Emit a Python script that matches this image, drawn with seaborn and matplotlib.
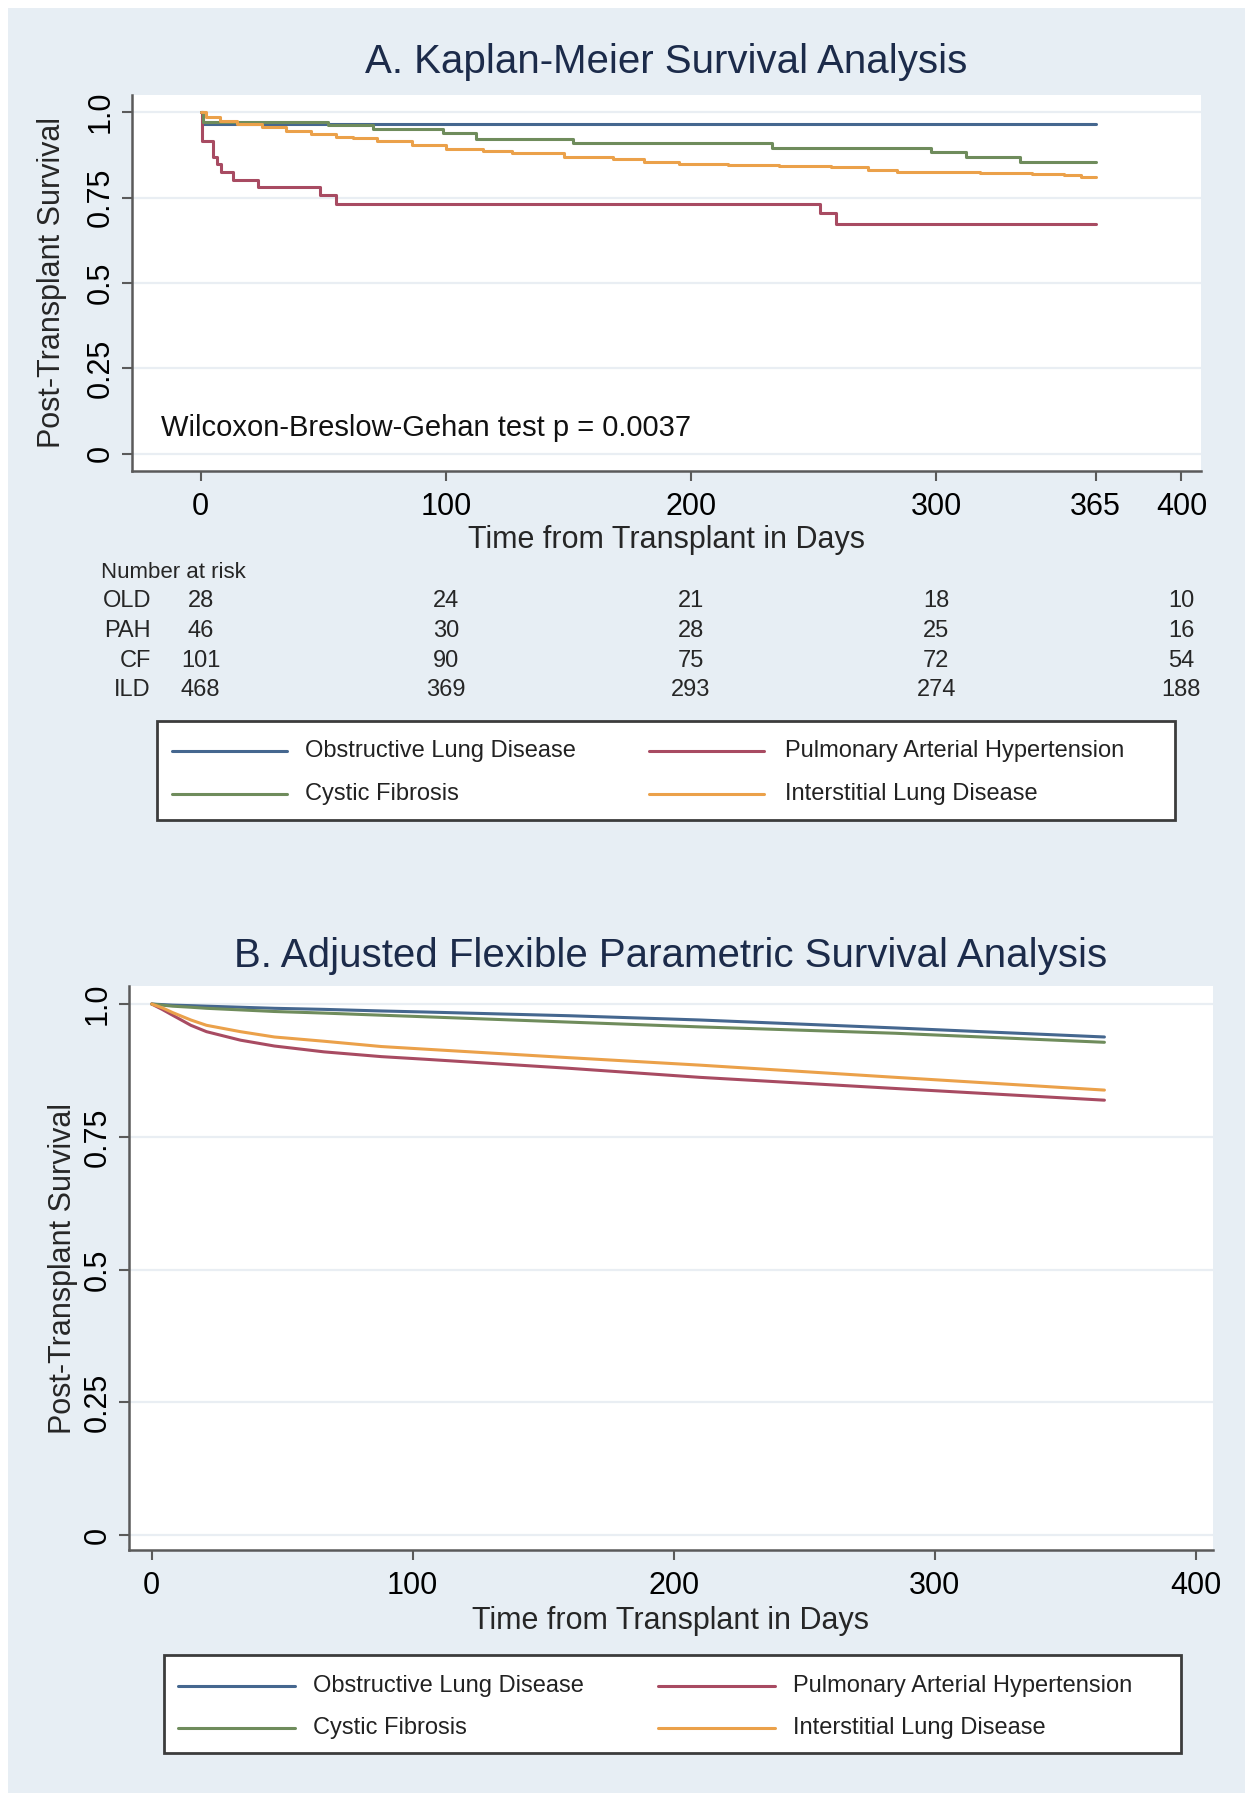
import matplotlib
matplotlib.use("Agg")
import matplotlib.pyplot as plt
import matplotlib.transforms as mtransforms
from matplotlib.patches import Rectangle
from matplotlib.lines import Line2D
import pandas as pd
import seaborn as sns

# grupe i boje
groups = ["Obstructive Lung Disease", "Pulmonary Arterial Hypertension",
          "Cystic Fibrosis", "Interstitial Lung Disease"]
colors = ["#45678F", "#A84B62", "#6F8C5C", "#EBA14A"]

# A. Kaplan-Meier (stepenice)
km_old_days = [0, 1, 365]
km_old_surv = [1.0, 0.964, 0.964]
km_pah_days = [0, 0.5, 5, 6.5, 8.4, 13, 23.4, 48.5, 55.3, 252.8, 259, 365]
km_pah_surv = [1.0, 0.916, 0.870, 0.848, 0.824, 0.802, 0.780, 0.757, 0.730, 0.704, 0.674, 0.674]
km_cf_days = [0, 1, 51.9, 70.2, 98.7, 112.3, 151.7, 233, 298, 312, 334, 365]
km_cf_surv = [1.0, 0.970, 0.962, 0.950, 0.940, 0.921, 0.909, 0.894, 0.882, 0.869, 0.855, 0.855]
km_ild_days = [0, 2, 8, 15, 25, 35, 45, 55, 62, 72, 86, 100, 115, 127, 148, 168,
               181, 195, 215, 236, 257, 272, 284, 300, 318, 339, 352, 359, 365]
km_ild_surv = [1.0, 0.985, 0.975, 0.965, 0.955, 0.945, 0.935, 0.928, 0.923, 0.914, 0.903,
               0.893, 0.887, 0.881, 0.868, 0.863, 0.853, 0.847, 0.845, 0.843, 0.838, 0.830,
               0.826, 0.825, 0.823, 0.819, 0.815, 0.811, 0.810]

# broj pod rizikom
risk_days = [0, 100, 200, 300, 400]
risk_labels = ["OLD", "PAH", "CF", "ILD"]
risk_old = [28, 24, 21, 18, 10]
risk_pah = [46, 30, 28, 25, 16]
risk_cf = [101, 90, 75, 72, 54]
risk_ild = [468, 369, 293, 274, 188]

# B. prilagodjeni parametarski model (glatke krive)
b_days = [0, 4, 8, 15, 21, 34, 47, 66, 88, 105, 160, 210, 285, 365]
b_old = [1.0, 0.999, 0.998, 0.997, 0.996, 0.994, 0.992, 0.990, 0.987, 0.985, 0.978, 0.970, 0.955, 0.938]
b_pah = [1.0, 0.990, 0.979, 0.960, 0.948, 0.932, 0.921, 0.910, 0.901, 0.896, 0.879, 0.862, 0.841, 0.819]
b_cf = [1.0, 0.998, 0.996, 0.994, 0.992, 0.989, 0.986, 0.983, 0.979, 0.976, 0.966, 0.957, 0.945, 0.928]
b_ild = [1.0, 0.993, 0.984, 0.970, 0.960, 0.948, 0.938, 0.930, 0.920, 0.915, 0.899, 0.885, 0.862, 0.838]

W, H = 1253, 1800
NAVY = "#1C2B4A"
AXC = "#5A5A5A"


def fx(px):
    return px / W


def fy(py):
    return 1 - py / H


def long_df(days_list, surv_list):
    rows = []
    for g, d, s in zip(groups, days_list, surv_list):
        for t, v in zip(d, s):
            rows.append({"days": t, "surv": v, "group": g})
    return pd.DataFrame(rows)


def style_axes(ax, xticks, xlim, ylim, ylab_x, xlab_y):
    ax.set_facecolor("white")
    ax.set_xlim(xlim)
    ax.set_ylim(ylim)
    ax.set_xticks(xticks)
    ax.set_xticklabels([str(t) for t in xticks])
    ax.set_yticks([0, 0.25, 0.5, 0.75, 1.0])
    ax.set_yticklabels(["0", "0.25", "0.5", "0.75", "1.0"], rotation=90, va="center")
    ax.grid(False)
    for yv in [0, 0.25, 0.5, 0.75, 1.0]:
        ax.axhline(yv, color="#E9EEF3", linewidth=1.6, zorder=0)
    for s in ["top", "right"]:
        ax.spines[s].set_visible(False)
    for s in ["left", "bottom"]:
        ax.spines[s].set_visible(True)
        ax.spines[s].set_color(AXC)
        ax.spines[s].set_linewidth(1.8)
    ax.tick_params(axis="both", direction="out", length=7, width=1.5, color=AXC,
                   labelsize=22, labelcolor="black", left=True, bottom=True)
    ax.tick_params(axis="x", pad=8)
    ax.tick_params(axis="y", pad=5)
    ax.set_xlabel("Time from Transplant in Days", fontsize=22, va="center")
    ax.set_ylabel("Post-Transplant Survival", fontsize=22, va="center")
    ax.xaxis.set_label_coords(0.5, xlab_y)
    ax.yaxis.set_label_coords(ylab_x, 0.5)


def draw_legend(fig, box, line_x, text_x, row_y):
    x0, y0, x1, y1 = box
    fig.patches.append(Rectangle((fx(x0), fy(y1)), fx(x1) - fx(x0), fy(y0) - fy(y1),
                                 transform=fig.transFigure, facecolor="white",
                                 edgecolor="#3C3C3C", linewidth=2.0, zorder=1))
    # redosled: OLD, PAH u prvom redu, CF, ILD u drugom
    for i, (g, c) in enumerate(zip(groups, colors)):
        col = i % 2
        row = i // 2
        lx0, lx1 = line_x[col]
        fig.add_artist(Line2D([fx(lx0), fx(lx1)], [fy(row_y[row])] * 2,
                              transform=fig.transFigure, color=c, linewidth=2.2, zorder=2))
        fig.text(fx(text_x[col]), fy(row_y[row]), g, fontsize=17, va="center",
                 ha="left", color="#222222", zorder=2)


sns.set_theme(style="white")
plt.rcParams["font.family"] = ["Liberation Sans", "DejaVu Sans"]

fig = plt.figure(figsize=(W / 100, H / 100), dpi=100, facecolor="white")
fig.patches.append(Rectangle((fx(8), fy(1793)), fx(1245) - fx(8), fy(8) - fy(1793),
                             transform=fig.transFigure, facecolor="#E7EEF4",
                             edgecolor="none", zorder=-10))

# panel A
axA = fig.add_axes([fx(132), fy(471), fx(1201) - fx(132), fy(95) - fy(471)])
km_df = long_df([km_old_days, km_pah_days, km_cf_days, km_ild_days],
                [km_old_surv, km_pah_surv, km_cf_surv, km_ild_surv])
sns.lineplot(data=km_df, x="days", y="surv", hue="group", hue_order=groups,
             palette=colors, estimator=None, drawstyle="steps-post",
             linewidth=2.2, legend=False, ax=axA)
style_axes(axA, [0, 100, 200, 300, 365, 400], (-28, 408), (-0.05, 1.05),
           (52 - 132) / (1201 - 132), (471 - 540) / (471 - 95))
axA.set_title("A. Kaplan-Meier Survival Analysis", fontsize=29, color=NAVY, pad=16)
axA.text(-16.3, 0.076, "Wilcoxon-Breslow-Gehan test p = 0.0037", fontsize=21,
         ha="left", va="center", color="#111111")

# tabela broja pod rizikom
trans = mtransforms.blended_transform_factory(axA.transData, fig.transFigure)
fig.text(fx(101), fy(573), "Number at risk", fontsize=16, ha="left", va="center")
risk_rows = [risk_old, risk_pah, risk_cf, risk_ild]
risk_y = [601, 631, 661, 690]
for lab, vals, ry in zip(risk_labels, risk_rows, risk_y):
    fig.text(fx(151), fy(ry), lab, fontsize=17, ha="right", va="center")
    for d, v in zip(risk_days, vals):
        axA.text(d, fy(ry), str(v), transform=trans, fontsize=17,
                 ha="center", va="center", clip_on=False)

draw_legend(fig, (157, 721, 1175, 820), [(172, 287), (649, 764)], [305, 785], [751, 794])

# panel B
axB = fig.add_axes([fx(129), fy(1550), fx(1213) - fx(129), fy(986) - fy(1550)])
b_df = long_df([b_days] * 4, [b_old, b_pah, b_cf, b_ild])
sns.lineplot(data=b_df, x="days", y="surv", hue="group", hue_order=groups,
             palette=colors, estimator=None, linewidth=2.2, legend=False, ax=axB)
style_axes(axB, [0, 100, 200, 300, 400], (-8.7, 406.6), (-0.028, 1.034),
           (63 - 129) / (1213 - 129), (1550 - 1621) / (1550 - 986))
axB.set_title("B. Adjusted Flexible Parametric Survival Analysis", fontsize=29,
              color=NAVY, pad=14)

draw_legend(fig, (164, 1655, 1181, 1753), [(178, 295), (658, 775)], [313, 793], [1686, 1728])

fig.savefig("out.png", dpi=100, facecolor=fig.get_facecolor())
